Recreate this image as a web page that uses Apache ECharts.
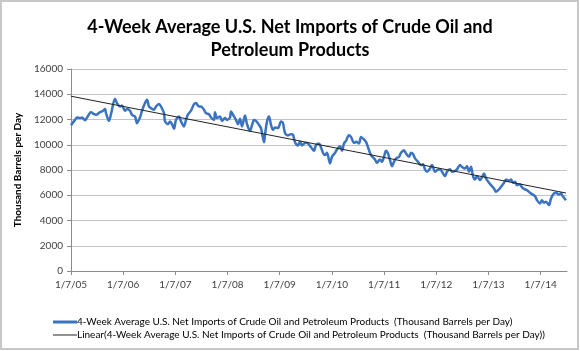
<!DOCTYPE html>
<html>
<head>
<meta charset="utf-8">
<script src="https://cdn.jsdelivr.net/npm/echarts@6/dist/echarts.min.js"></script>
<style>
html,body{margin:0;padding:0;background:#fff;}
#c{width:580px;height:351px;}
</style>
</head>
<body>
<div id="c"></div>
<script>
// Weeks since 1/7/05 and 4-week average net imports (thousand barrels per day)
var weeks = [0,4,6,9,11,14,16,20,23,25,29,32,34,35,38,40,44,46,49,51,54,56,59,61,64,66,69,71,74,76,78,80,83,85,88,90,93,94,97,99,101,103,105,108,110,113,115,117,120,
123,125,128,130,133,135,138,140,143,144,146,149,151,154,156,159,160,163,165,167,169,171,174,176,179,181,183,185,188,190,193,194,196,198,200,202,204,207,210,212,214,217,220,222,224,227,229,231,234,236,
240,243,245,248,250,252,254,256,259,261,264,266,269,271,273,275,278,280,283,285,288,290,293,295,298,300,302,304,306,309,311,313,315,317,319,321,323,325,328,330,333,335,338,340,342,344,347,350,352,354,356,359,361,
364,366,369,371,374,376,379,381,384,386,389,391,394,396,398,400,402,404,406,409,411,413,415,418,420,423,425,428,430,433,435,438,440,442,444,446,449,451,454,456,459,461,464,466,469,471,473,475,478,480,483,485,488,490,492,495];
var imports = [11550,11970,12160,12110,12150,11950,12150,12580,12420,12370,12580,12690,12840,12500,11890,12420,13640,13300,13030,13110,12690,12840,12690,12370,12240,11710,12160,12690,13300,13560,13030,12900,12770,13030,13220,13030,12500,11850,11630,11850,11630,11260,11970,12240,11850,11450,11970,12400,12700,
13220,13300,13030,13030,12770,12500,12420,12160,11970,12580,12110,12240,11890,12110,11970,12160,12640,12240,11970,11630,12050,11450,12320,11630,11100,11530,11970,11890,11580,11320,10200,10790,11850,12240,11580,11180,11370,11320,11850,11710,10920,10740,10840,10790,10200,9950,10260,9950,10130,10130,
9800,9520,9970,10100,9790,9360,9180,9360,8520,9040,9360,9630,9890,9520,10100,10310,10760,10620,10150,10230,10100,10620,10420,10230,9570,9180,9000,8840,8570,8840,8650,9040,9520,9310,8780,8300,8650,8920,9040,9360,9570,9310,9040,9360,9260,8920,8650,8390,8460,8050,7860,8120,8390,
7860,7990,8050,7860,7520,7860,8050,7860,7940,8050,8390,8250,8120,8300,7860,8250,7520,7250,7520,7200,7410,7730,7330,6990,6800,6540,6270,6460,6670,6990,7250,7140,7250,6990,7060,6800,6880,6620,6460,6400,6190,6090,5930,5610,5350,5610,5400,5480,5220,5750,6150,6190,6050,6150,5900,5600];
var yearLabels = ['1/7/05','1/7/06','1/7/07','1/7/08','1/7/09','1/7/10','1/7/11','1/7/12','1/7/13','1/7/14'];
var titleLines = ['4-Week Average U.S. Net Imports of Crude Oil and', 'Petroleum Products'];
var seriesName = '4-Week Average U.S. Net Imports of Crude Oil and Petroleum Products  (Thousand Barrels per Day)';
var trendName = 'Linear(4-Week Average U.S. Net Imports of Crude Oil and Petroleum Products  (Thousand Barrels per Day))';

var WEEKS_PER_YEAR = 365.25 / 7;
var AXIS_MAX = 496;

// least-squares linear trend
var n = weeks.length, sx = 0, sy = 0, sxx = 0, sxy = 0;
for (var i = 0; i < n; i++) { sx += weeks[i]; sy += imports[i]; sxx += weeks[i]*weeks[i]; sxy += weeks[i]*imports[i]; }
var slope = (n*sxy - sx*sy) / (n*sxx - sx*sx);
var icpt = (sy - slope*sx) / n;
var xEnd = weeks[n-1];
var trendData = [[0, icpt], [xEnd, icpt + slope*xEnd]];

var mainData = weeks.map(function (w, i) { return [w, imports[i]]; });
var FONT = 'Lato, "Open Sans", sans-serif';

var chart = echarts.init(document.getElementById('c'), null, {renderer: 'canvas'});
chart.setOption({
  animation: false,
  backgroundColor: '#fff',
  title: {
    text: titleLines.join('\n'),
    left: 'center', top: 11,
    textStyle: {fontFamily: FONT, fontSize: 18, fontWeight: 'bold', color: '#000', lineHeight: 23}
  },
  graphic: [{
    type: 'rect', shape: {x: 1, y: 1, width: 577, height: 348},
    style: {fill: 'none', stroke: '#c8c8c8', lineWidth: 2}, silent: true
  }],
  legend: [{
    orient: 'vertical', left: 48, top: 312, itemWidth: 24, itemHeight: 3, itemGap: 0,
    icon: 'rect',
    data: [seriesName],
    textStyle: {fontFamily: FONT, fontSize: 10, color: '#000', padding: [0,0,0,-5]}
  }, {
    orient: 'vertical', left: 48, top: 325, itemWidth: 24, itemHeight: 1, itemGap: 0,
    icon: 'rect',
    data: [trendName],
    textStyle: {fontFamily: FONT, fontSize: 10, color: '#000', padding: [0,0,0,-5]}
  }],
  grid: {left: 71, right: 13, top: 69, bottom: 80},
  xAxis: {
    type: 'value', min: 0, max: AXIS_MAX, interval: WEEKS_PER_YEAR,
    axisLine: {lineStyle: {color: '#8c8c8c'}},
    axisTick: {length: 4, lineStyle: {color: '#8c8c8c'}},
    splitLine: {show: false},
    axisLabel: {
      fontFamily: FONT, fontSize: 10, color: '#404040', margin: 9, showMaxLabel: false,
      formatter: function (v) {
        var k = Math.round(v / WEEKS_PER_YEAR);
        if (Math.abs(v - k*WEEKS_PER_YEAR) > 0.01) return '';
        return yearLabels[k] || '';
      }
    }
  },
  yAxis: {
    type: 'value', min: 0, max: 16000, interval: 2000,
    name: 'Thousand Barrels per Day', nameLocation: 'middle', nameGap: 37,
    nameTextStyle: {fontFamily: FONT, fontSize: 10, fontWeight: 'bold', color: '#000'},
    axisLine: {show: true, lineStyle: {color: '#8c8c8c'}},
    axisTick: {show: true, length: 4, lineStyle: {color: '#8c8c8c'}},
    splitLine: {lineStyle: {color: '#c4c4c4'}},
    axisLabel: {fontFamily: FONT, fontSize: 10, color: '#404040', margin: 8,
      formatter: function (v) { return String(v); }}
  },
  series: [{
    name: seriesName, type: 'line', data: mainData, showSymbol: false, symbol: 'none',
    smooth: 0.3,
    lineStyle: {color: '#3a73c0', width: 2.5}, itemStyle: {color: '#3a73c0'}
  }, {
    name: trendName, type: 'line', data: trendData, showSymbol: false, symbol: 'none',
    lineStyle: {color: '#222', width: 1}, itemStyle: {color: '#222'}
  }]
});
</script>
</body>
</html>
